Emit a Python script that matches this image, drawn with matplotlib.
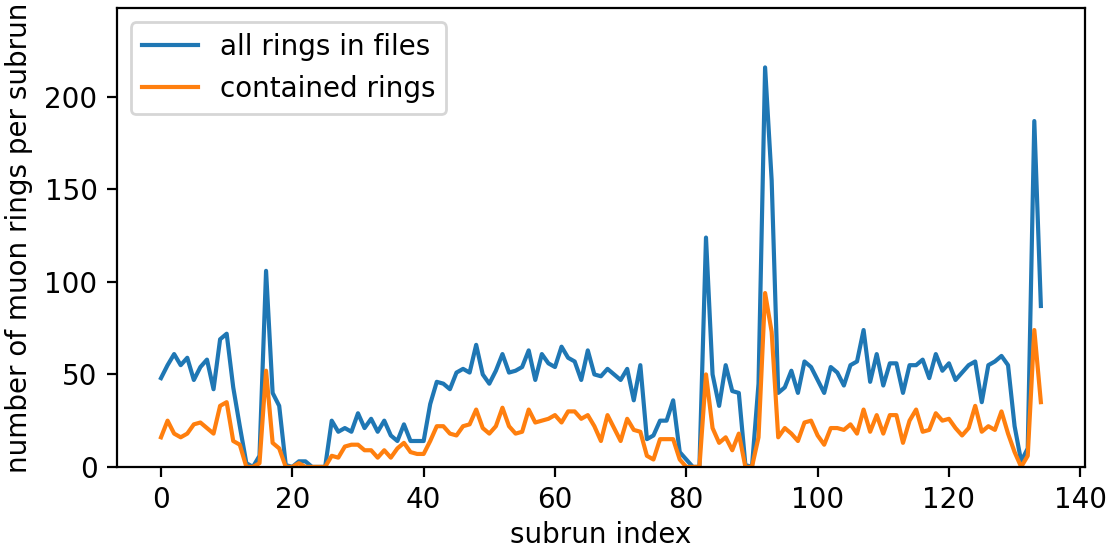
import matplotlib
matplotlib.use("Agg")
import matplotlib.pyplot as plt

# ring counts per subrun
all_rings = [48, 55, 61, 55, 59, 47, 54, 58, 42, 69,
             72, 43, 22, 2, 0, 6, 106, 40, 33, 1,
             0, 3, 3, 0, 0, 0, 25, 19, 21, 19,
             29, 21, 26, 19, 25, 17, 14, 23, 14, 14,
             14, 34, 46, 45, 42, 51, 53, 51, 66, 50,
             45, 52, 61, 51, 52, 54, 63, 47, 61, 56,
             54, 65, 59, 57, 47, 63, 50, 49, 53, 50,
             47, 53, 36, 55, 15, 17, 25, 25, 36, 8,
             4, 0, 0, 124, 50, 33, 55, 41, 40, 1,
             0, 45, 216, 155, 40, 43, 52, 40, 57, 54,
             47, 40, 54, 51, 44, 55, 57, 74, 46, 61,
             44, 56, 56, 40, 55, 55, 58, 48, 61, 52,
             56, 47, 51, 55, 57, 35, 55, 57, 60, 55,
             22, 3, 10, 187, 87]

contained_rings = [16, 25, 18, 16, 18, 23, 24, 21, 18, 33,
                   35, 14, 12, 0, 0, 2, 52, 13, 10, 0,
                   0, 2, 0, 0, 0, 0, 6, 5, 11, 12,
                   12, 9, 9, 5, 9, 5, 10, 13, 8, 7,
                   7, 14, 22, 22, 18, 17, 22, 23, 31, 21,
                   18, 22, 32, 22, 18, 19, 31, 24, 25, 26,
                   28, 24, 30, 30, 26, 28, 22, 14, 28, 21,
                   14, 26, 20, 19, 6, 4, 15, 15, 15, 4,
                   0, 0, 0, 50, 21, 13, 16, 9, 18, 0,
                   0, 16, 94, 73, 16, 21, 18, 14, 24, 25,
                   17, 12, 21, 21, 20, 23, 18, 31, 19, 28,
                   18, 28, 28, 13, 25, 31, 19, 20, 29, 25,
                   26, 21, 17, 21, 33, 19, 22, 20, 30, 18,
                   8, 0, 6, 74, 35]

subrun_index = list(range(len(all_rings)))

dpi = 200
fig = plt.figure(figsize=(1107 / dpi, 548 / dpi), dpi=dpi)
ax = fig.add_axes([0.1057, 0.148, 0.8743, 0.837])

ax.plot(subrun_index, all_rings, label="all rings in files")
ax.plot(subrun_index, contained_rings, label="contained rings")

ax.set_ylim(0, 248)
ax.set_xticks([0, 20, 40, 60, 80, 100, 120, 140])
ax.set_xlabel("subrun index", labelpad=2.5)
ax.set_ylabel("number of muon rings per subrun")
ax.legend(loc="upper left")

fig.savefig("out.png", dpi=dpi)
